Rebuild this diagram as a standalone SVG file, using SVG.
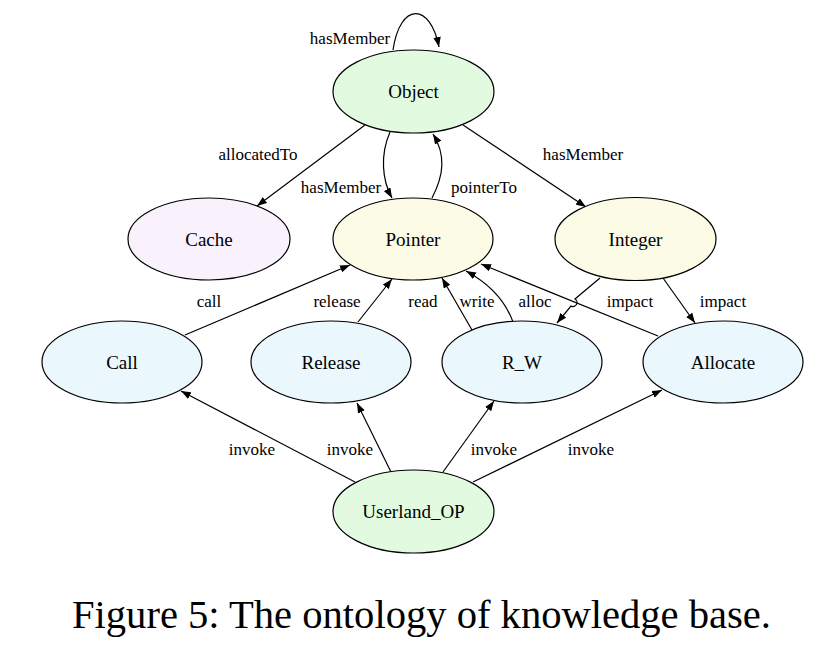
<svg xmlns="http://www.w3.org/2000/svg" width="839" height="645" viewBox="0 0 839 645">
<defs>
<marker id="ah" markerUnits="userSpaceOnUse" markerWidth="11" markerHeight="8" refX="10" refY="3.75" orient="auto">
<path d="M0,0 L10,3.75 L0,7.5 z" fill="#000"/>
</marker>
<style>
.n ellipse{stroke:#000;stroke-width:1.2}
.n text{font-family:"Liberation Serif","Times New Roman",serif;font-size:19px;text-anchor:middle;dominant-baseline:central;fill:#000}
.e path{fill:none;stroke:#000;stroke-width:1.2;marker-end:url(#ah)}
.e text{font-family:"Liberation Serif","Times New Roman",serif;font-size:17px;text-anchor:middle;fill:#000}
.g{fill:#e2fbe0}.p{fill:#f9f2fd}.y{fill:#fbfbe6}.b{fill:#eaf8fd}
</style>
</defs>
<rect width="839" height="645" fill="#fff"/>
<g id="connectors" class="e">
<path d="M393,50 C400,2 430,2 439,47"/>
<text x="350" y="44">hasMember</text>
<path d="M365,125 L257,206"/>
<text x="258" y="160">allocatedTo</text>
<path d="M390,132 C380,155 382,180 392,198"/>
<text x="341" y="193">hasMember</text>
<path d="M432,198 C444,175 446,155 433,134"/>
<text x="484" y="193">pointerTo</text>
<path d="M463,125 L586,207"/>
<text x="583" y="160">hasMember</text>
<path d="M185,335 L350,265"/>
<text x="209" y="307">call</text>
<path d="M358,322 L392,279"/>
<text x="337" y="307">release</text>
<path d="M472,330 L442,278"/>
<text x="423" y="307">read</text>
<path d="M513,322 C505,300 490,284 466,271"/>
<text x="477" y="307">write</text>
<path d="M658,336 L481,264"/>
<text x="535" y="307">alloc</text>
<path d="M600,278 L575,299 A4,4 0 0 1 571,306 L557,323"/>
<text x="630" y="307">impact</text>
<path d="M663,278 L695,323"/>
<text x="723" y="307">impact</text>
<path d="M355,482 L181,391"/>
<text x="252" y="455">invoke</text>
<path d="M391,472 L357,403"/>
<text x="350" y="455">invoke</text>
<path d="M443,472 L494,401"/>
<text x="494" y="455">invoke</text>
<path d="M473,482 L662,390"/>
<text x="591" y="455">invoke</text>
</g>
<g id="Object" class="n"><ellipse class="g" cx="413.5" cy="91.5" rx="80.5" ry="41.5"/><text x="413.5" y="91.5">Object</text></g>
<g id="Cache" class="n"><ellipse class="p" cx="209" cy="239" rx="81" ry="41"/><text x="209" y="239">Cache</text></g>
<g id="Pointer" class="n"><ellipse class="y" cx="413" cy="239" rx="80" ry="41"/><text x="413" y="239">Pointer</text></g>
<g id="Integer" class="n"><ellipse class="y" cx="635.5" cy="239" rx="80.5" ry="41.5"/><text x="635.5" y="239">Integer</text></g>
<g id="Call" class="n"><ellipse class="b" cx="122" cy="362" rx="80" ry="41"/><text x="122" y="362">Call</text></g>
<g id="Release" class="n"><ellipse class="b" cx="331" cy="362" rx="80" ry="41"/><text x="331" y="362">Release</text></g>
<g id="R_W" class="n"><ellipse class="b" cx="522" cy="362" rx="80" ry="41"/><text x="522" y="362">R_W</text></g>
<g id="Allocate" class="n"><ellipse class="b" cx="723" cy="362" rx="80" ry="41"/><text x="723" y="362">Allocate</text></g>
<g id="Userland_OP" class="n"><ellipse class="g" cx="413.5" cy="511.5" rx="80.5" ry="41.5"/><text x="413.5" y="511.5">Userland_OP</text></g>
<text x="72" y="628" font-family="Liberation Serif, Times New Roman, serif" font-size="40" textLength="699" lengthAdjust="spacingAndGlyphs" fill="#000">Figure 5: The ontology of knowledge base.</text>
</svg>
